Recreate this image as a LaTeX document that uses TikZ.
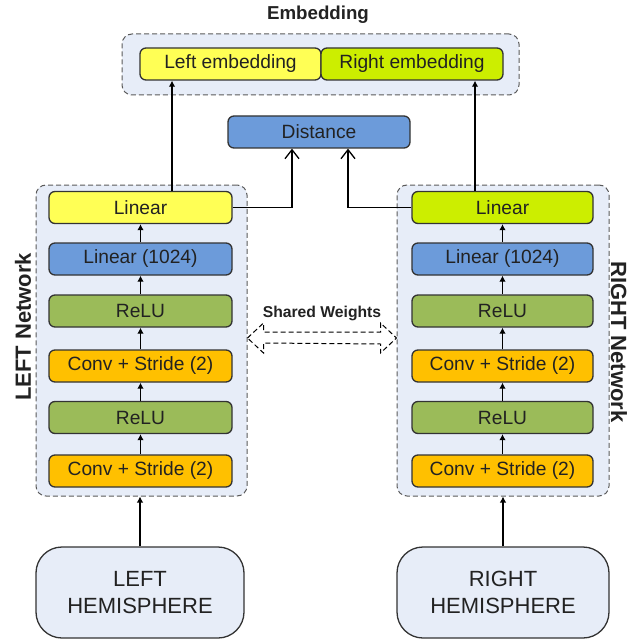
\documentclass[tikz,border=0pt]{standalone}
\usepackage{fontspec}
\setmainfont{Liberation Sans}
\usetikzlibrary{arrows.meta,calc}
\definecolor{cyel}{HTML}{FFFF55}
\definecolor{clime}{HTML}{CCEE00}
\definecolor{cblue}{HTML}{6C9BDA}
\definecolor{cgreen}{HTML}{9BBB59}
\definecolor{corange}{HTML}{FFC000}
\definecolor{cpanel}{HTML}{E7EDF8}
\definecolor{cborder}{HTML}{333333}
\definecolor{ctext}{HTML}{222222}
\definecolor{cdash}{HTML}{5A5A5A}
\tikzset{
  layer/.style={draw=cborder, line width=1.3pt, rounded corners=6pt,
    minimum width=183pt, minimum height=32pt, inner sep=0pt,
    text=ctext, font=\fontsize{19.2}{22}\selectfont},
  panel/.style={draw=cdash, fill=cpanel, line width=1pt, dash pattern=on 5pt off 3pt,
    rounded corners=10pt, inner sep=0pt},
  hemi/.style={draw=cborder, fill=cpanel, line width=1.3pt, rounded corners=26pt,
    inner sep=0pt, align=center, text=ctext, font=\fontsize{22}{27}\selectfont},
  chain/.style={draw=black, line width=1.4pt, -{Latex[length=6pt,width=6.5pt]}},
  darr/.style={draw=black, line width=1.3pt, -{Straight Barb[length=9pt,width=14pt,line width=1.3pt]}},
  sidelabel/.style={font=\bfseries\fontsize{22}{25}\selectfont, text=ctext, inner sep=1pt},
}
\begin{document}
\begin{tikzpicture}[x=1pt,y=-1pt]
\useasboundingbox (0,0) rectangle (629,639);
% embedding panel
\node[panel, minimum width=397pt, minimum height=61pt] (embC) at (320.5,64.5) {};
\node[font=\bfseries\fontsize{18.7}{22}\selectfont, text=ctext] (embT) at (318,15) {Embedding};
\node[layer, fill=cyel, minimum width=181pt] (lemb) at (230.5,64) {Left embedding};
\node[layer, fill=clime, minimum width=182pt] (remb) at (412,64) {Right embedding};
% distance
\node[layer, fill=cblue, minimum width=182pt] (dist) at (319,132) {Distance};
% left network
\node[panel, minimum width=211pt, minimum height=311pt] (leftC) at (141.5,340.5) {};
\node[layer, fill=cyel]    (l1) at (140.5,207.5) {Linear};
\node[layer, fill=cblue]   (l2) at (140.5,259) {Linear (1024)};
\node[layer, fill=cgreen]  (l3) at (140.5,311) {ReLU};
\node[layer, fill=corange] (l4) at (140.5,366) {Conv + Stride (2)};
\node[layer, fill=cgreen]  (l5) at (140.5,417.5) {ReLU};
\node[layer, fill=corange] (l6) at (140.5,471) {Conv + Stride (2)};
% right network
\node[panel, minimum width=212pt, minimum height=311pt] (rightC) at (503,340.5) {};
\node[layer, fill=clime, minimum width=181pt]   (r1) at (502.5,207.5) {Linear};
\node[layer, fill=cblue, minimum width=181pt]   (r2) at (502.5,259) {Linear (1024)};
\node[layer, fill=cgreen, minimum width=181pt]  (r3) at (502.5,311) {ReLU};
\node[layer, fill=corange, minimum width=181pt] (r4) at (502.5,366) {Conv + Stride (2)};
\node[layer, fill=cgreen, minimum width=181pt]  (r5) at (502.5,417.5) {ReLU};
\node[layer, fill=corange, minimum width=181pt] (r6) at (502.5,471) {Conv + Stride (2)};
% side labels
\node[sidelabel, rotate=90]  (lnet) at (23,327) {LEFT Network};
\node[sidelabel, rotate=-90] (rnet) at (619,342) {RIGHT Network};
% hemispheres
\node[hemi, minimum width=208pt, minimum height=91pt] (lh) at (140,592.5) {LEFT\\HEMISPHERE};
\node[hemi, minimum width=212pt, minimum height=91pt] (rh) at (503,592.5) {RIGHT\\HEMISPHERE};
% chain arrows
\foreach \a/\b in {l6/l5,l5/l4,l4/l3,l3/l2,l2/l1,r6/r5,r5/r4,r4/r3,r3/r2,r2/r1}
  \draw[chain] (\a.north) -- (\b.south);
\draw[chain] (lh.north) -- (lh.north |- leftC.south);
\draw[chain] (rh.north) -- (rh.north |- rightC.south);
% to embeddings
\draw[chain] ([xshift=31.5pt]l1.north) -- ([xshift=31.5pt]l1.north |- lemb.south);
\draw[chain] ([xshift=-27.5pt]r1.north) -- ([xshift=-27.5pt]r1.north |- remb.south);
% to distance
\draw[darr] (l1.east) -| ([xshift=-27pt]dist.south);
\draw[darr] (r1.west) -| ([xshift=29pt]dist.south);
% shared weights
\coordinate (swl) at (leftC.east |- 0,338);
\coordinate (swr) at (rightC.west |- 0,338);
\draw[draw=black, line width=1pt, dash pattern=on 5pt off 3pt, fill=white]
  (swl) -- ++(16,-15) -- ++(0,9) -- ($(swr)+(-16,-6)$) -- ++(0,-9) -- (swr)
  -- ++(-16,15) -- ++(0,-9) -- ($(swl)+(16,5)$) -- ++(0,10) -- cycle;
\node[font=\bfseries\fontsize{15.7}{18}\selectfont, text=ctext] (swt) at (322,313) {Shared Weights};
\end{tikzpicture}
\end{document}
